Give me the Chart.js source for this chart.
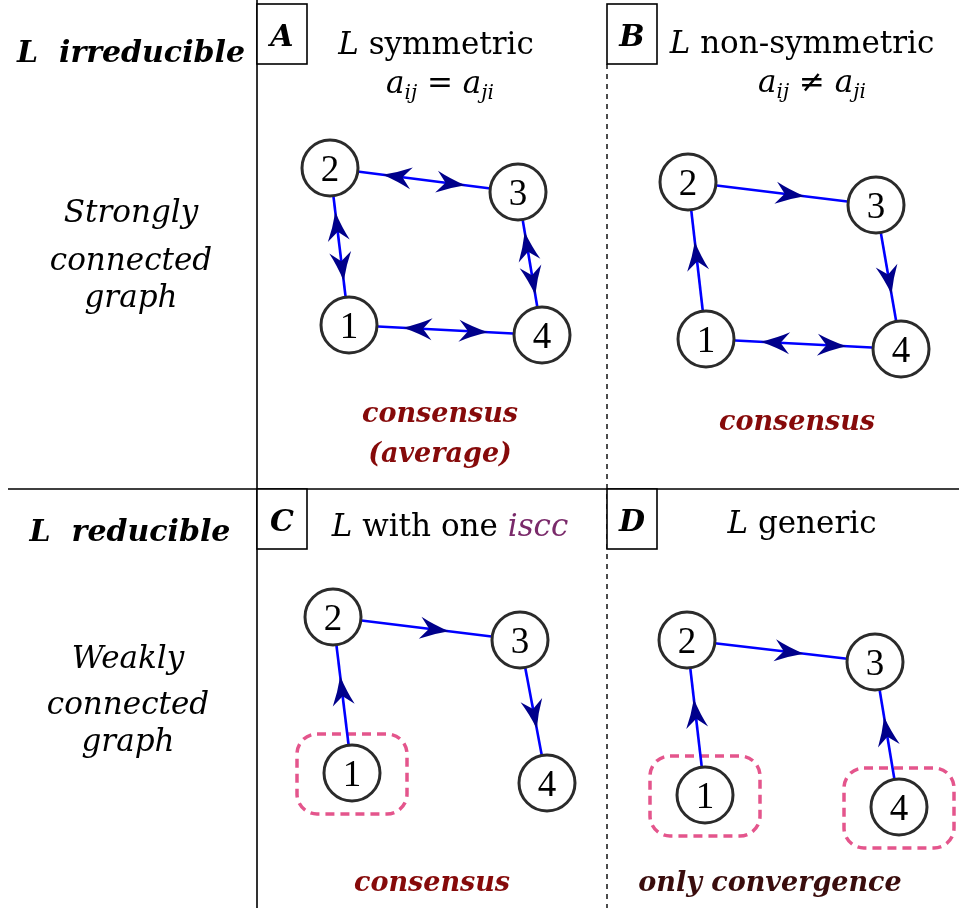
<!DOCTYPE html>
<html>
<head>
<meta charset="utf-8">
<script src="https://cdn.jsdelivr.net/npm/chart.js@4.4.0/dist/chart.umd.min.js"></script>
<style>
  html, body { margin: 0; padding: 0; background: #fff; }
</style>
</head>
<body>
<canvas id="graphChart" width="959" height="908"></canvas>
<script>
// node centres for each panel, in order 1, 2, 3, 4
var nodeLabels = ['1', '2', '3', '4'];
var nodesA = [[349, 325], [330, 168], [518, 192], [542, 335]];
var nodesB = [[706, 339], [688, 182], [876, 205], [901, 349]];
var nodesC = [[352, 773], [333, 617], [520, 640], [547, 783]];
var nodesD = [[705, 795], [687, 640], [875, 662], [899, 807]];

// edges: [from, to, kind]  kind 'one' = single arrow, 'two' = both ways
var edgesA = [[1, 2, 'two'], [2, 3, 'two'], [3, 4, 'two'], [1, 4, 'two']];
var edgesB = [[1, 2, 'one'], [2, 3, 'one'], [3, 4, 'one'], [1, 4, 'two']];
var edgesC = [[1, 2, 'one'], [2, 3, 'one'], [3, 4, 'one']];
var edgesD = [[1, 2, 'one'], [2, 3, 'one'], [4, 3, 'one']];

// nodes that get the dashed "isolated" frame
var framedC = [1];
var framedD = [1, 4];

var panels = [
  { nodes: nodesA, edges: edgesA, framed: [] },
  { nodes: nodesB, edges: edgesB, framed: [] },
  { nodes: nodesC, edges: edgesC, framed: framedC },
  { nodes: nodesD, edges: edgesD, framed: framedD }
];

var SERIF = '"DejaVu Serif", serif';
var RED = '#860a0a';

function pt(n) { return { x: n[0], y: n[1] }; }

var datasets = [];
panels.forEach(function (p) {
  p.edges.forEach(function (e) {
    datasets.push({
      type: 'line',
      data: [pt(p.nodes[e[0] - 1]), pt(p.nodes[e[1] - 1])],
      borderColor: '#0000ff',
      borderWidth: 2.6,
      pointRadius: 0,
      showLine: true,
      order: 5
    });
  });
  datasets.push({
    type: 'scatter',
    data: p.nodes.map(pt),
    pointRadius: 28,
    pointHoverRadius: 28,
    pointBackgroundColor: '#ffffff',
    pointBorderColor: '#2b2b2b',
    pointBorderWidth: 3,
    order: 1
  });
});

function textRuns(ctx, runs, cx, base) {
  var w = 0;
  runs.forEach(function (r) { ctx.font = r.f; w += ctx.measureText(r.t).width; });
  var x = cx - w / 2;
  ctx.textAlign = 'left';
  ctx.textBaseline = 'alphabetic';
  runs.forEach(function (r) {
    ctx.font = r.f;
    ctx.fillStyle = r.c || '#000';
    ctx.fillText(r.t, x, base + (r.dy || 0));
    x += ctx.measureText(r.t).width;
  });
}

function arrowHead(ctx, tx, ty, dx, dy) {
  var len = 29, half = 11, notch = 9;
  var nx = -dy, ny = dx;
  ctx.fillStyle = '#00008b';
  ctx.beginPath();
  ctx.moveTo(tx, ty);
  ctx.quadraticCurveTo(tx - dx * len * 0.55 + nx * half * 0.42, ty - dy * len * 0.55 + ny * half * 0.42,
    tx - dx * len + nx * half, ty - dy * len + ny * half);
  ctx.lineTo(tx - dx * (len - notch), ty - dy * (len - notch));
  ctx.lineTo(tx - dx * len - nx * half, ty - dy * len - ny * half);
  ctx.quadraticCurveTo(tx - dx * len * 0.55 - nx * half * 0.42, ty - dy * len * 0.55 - ny * half * 0.42,
    tx, ty);
  ctx.closePath();
  ctx.fill();
}

function roundRect(ctx, x, y, w, h, r) {
  ctx.beginPath();
  ctx.moveTo(x + r, y);
  ctx.arcTo(x + w, y, x + w, y + h, r);
  ctx.arcTo(x + w, y + h, x, y + h, r);
  ctx.arcTo(x, y + h, x, y, r);
  ctx.arcTo(x, y, x + w, y, r);
  ctx.closePath();
}

var framePlugin = {
  id: 'frame',
  beforeDatasetsDraw: function (chart) {
    var ctx = chart.ctx, sx = chart.scales.x, sy = chart.scales.y;
    ctx.save();
    ctx.strokeStyle = '#000';
    ctx.lineWidth = 1.6;
    // solid grid lines
    ctx.beginPath();
    ctx.moveTo(sx.getPixelForValue(257), sy.getPixelForValue(0));
    ctx.lineTo(sx.getPixelForValue(257), sy.getPixelForValue(908));
    ctx.moveTo(sx.getPixelForValue(8), sy.getPixelForValue(489));
    ctx.lineTo(sx.getPixelForValue(959), sy.getPixelForValue(489));
    ctx.stroke();
    // dashed divider
    ctx.setLineDash([5, 5]);
    ctx.lineWidth = 1.4;
    ctx.beginPath();
    ctx.moveTo(sx.getPixelForValue(607), sy.getPixelForValue(64));
    ctx.lineTo(sx.getPixelForValue(607), sy.getPixelForValue(908));
    ctx.stroke();
    ctx.setLineDash([]);

    // dashed frames round isolated nodes
    ctx.strokeStyle = '#e4558c';
    ctx.lineWidth = 3.5;
    ctx.setLineDash([9, 6]);
    panels.forEach(function (p) {
      p.framed.forEach(function (k) {
        var n = p.nodes[k - 1];
        var cx = sx.getPixelForValue(n[0]), cy = sy.getPixelForValue(n[1]);
        roundRect(ctx, cx - 55, cy - 39, 110, 80, 20);
        ctx.stroke();
      });
    });
    ctx.setLineDash([]);

    // panel letter boxes
    var boxes = [[257, 4, 'A'], [607, 4, 'B'], [257, 489, 'C'], [607, 489, 'D']];
    boxes.forEach(function (b) {
      var x = sx.getPixelForValue(b[0]), y = sy.getPixelForValue(b[1]);
      ctx.fillStyle = '#fff';
      ctx.fillRect(x, y, 50, 60);
      ctx.strokeStyle = '#000';
      ctx.lineWidth = 1.6;
      ctx.strokeRect(x, y, 50, 60);
      textRuns(ctx, [{ t: b[2], f: 'bold italic 30px ' + SERIF }], x + 25, y + 42);
    });
    ctx.restore();
  },
  afterDatasetsDraw: function (chart) {
    var ctx = chart.ctx, sx = chart.scales.x, sy = chart.scales.y;
    ctx.save();
    panels.forEach(function (p) {
      // arrowheads
      p.edges.forEach(function (e) {
        var a = p.nodes[e[0] - 1], b = p.nodes[e[1] - 1];
        var ax = sx.getPixelForValue(a[0]), ay = sy.getPixelForValue(a[1]);
        var bx = sx.getPixelForValue(b[0]), by = sy.getPixelForValue(b[1]);
        var L = Math.hypot(bx - ax, by - ay), dx = (bx - ax) / L, dy = (by - ay) / L;
        if (e[2] === 'one') {
          arrowHead(ctx, ax + dx * L * 0.62, ay + dy * L * 0.62, dx, dy);
        } else {
          arrowHead(ctx, ax + dx * L * 0.72, ay + dy * L * 0.72, dx, dy);
          arrowHead(ctx, ax + dx * L * 0.28, ay + dy * L * 0.28, -dx, -dy);
        }
      });
      // node numbers
      p.nodes.forEach(function (n, i) {
        textRuns(ctx, [{ t: nodeLabels[i], f: '37px "Liberation Serif", serif' }],
          sx.getPixelForValue(n[0]), sy.getPixelForValue(n[1]) + 13);
      });
    });

    var it = 'italic 31px ' + SERIF, up = '31px ' + SERIF, sub = 'italic 20px ' + SERIF;
    var bi = 'bold italic 30px ' + SERIF, ri = 'bold italic 27px ' + SERIF;
    function X(v) { return sx.getPixelForValue(v); }
    function Y(v) { return sy.getPixelForValue(v); }

    // row headings
    textRuns(ctx, [{ t: 'L  irreducible', f: bi }], X(131), Y(62));
    textRuns(ctx, [{ t: 'L  reducible', f: bi }], X(130), Y(541));
    textRuns(ctx, [{ t: 'Strongly', f: it }], X(131), Y(222));
    textRuns(ctx, [{ t: 'connected', f: it }], X(131), Y(270));
    textRuns(ctx, [{ t: 'graph', f: it }], X(131), Y(307));
    textRuns(ctx, [{ t: 'Weakly', f: it }], X(128), Y(668));
    textRuns(ctx, [{ t: 'connected', f: it }], X(128), Y(714));
    textRuns(ctx, [{ t: 'graph', f: it }], X(128), Y(751));

    // panel titles
    textRuns(ctx, [{ t: 'L', f: it }, { t: ' symmetric', f: up }], X(436), Y(54));
    textRuns(ctx, [{ t: 'a', f: it }, { t: 'ij', f: sub, dy: 6 }, { t: ' = ', f: up },
      { t: 'a', f: it }, { t: 'ji', f: sub, dy: 6 }], X(440), Y(93));
    textRuns(ctx, [{ t: 'L', f: it }, { t: ' non-symmetric', f: up }], X(802), Y(53));
    textRuns(ctx, [{ t: 'a', f: it }, { t: 'ij', f: sub, dy: 6 }, { t: ' \u2260 ', f: up },
      { t: 'a', f: it }, { t: 'ji', f: sub, dy: 6 }], X(812), Y(92));
    textRuns(ctx, [{ t: 'L', f: it }, { t: ' with one ', f: up },
      { t: 'iscc', f: it, c: '#7a2a6a' }], X(450), Y(536));
    textRuns(ctx, [{ t: 'L', f: it }, { t: ' generic', f: up }], X(802), Y(533));

    // outcomes
    textRuns(ctx, [{ t: 'consensus', f: ri, c: RED }], X(440), Y(422));
    textRuns(ctx, [{ t: '(average)', f: ri, c: RED }], X(440), Y(462));
    textRuns(ctx, [{ t: 'consensus', f: ri, c: RED }], X(797), Y(430));
    textRuns(ctx, [{ t: 'consensus', f: ri, c: RED }], X(432), Y(891));
    textRuns(ctx, [{ t: 'only convergence', f: ri, c: '#3a0d0d' }], X(770), Y(891));
    ctx.restore();
  }
};

var ctx = document.getElementById('graphChart').getContext('2d');
var myChart = new Chart(ctx, {
  type: 'scatter',
  data: { datasets: datasets },
  options: {
    responsive: false,
    animation: false,
    devicePixelRatio: 1,
    layout: { padding: 0, autoPadding: false },
    plugins: { legend: { display: false }, tooltip: { enabled: false } },
    events: [],
    scales: {
      x: { type: 'linear', min: 0, max: 959, display: false },
      y: { type: 'linear', min: 0, max: 908, reverse: true, display: false }
    }
  },
  plugins: [framePlugin]
});
</script>
</body>
</html>
